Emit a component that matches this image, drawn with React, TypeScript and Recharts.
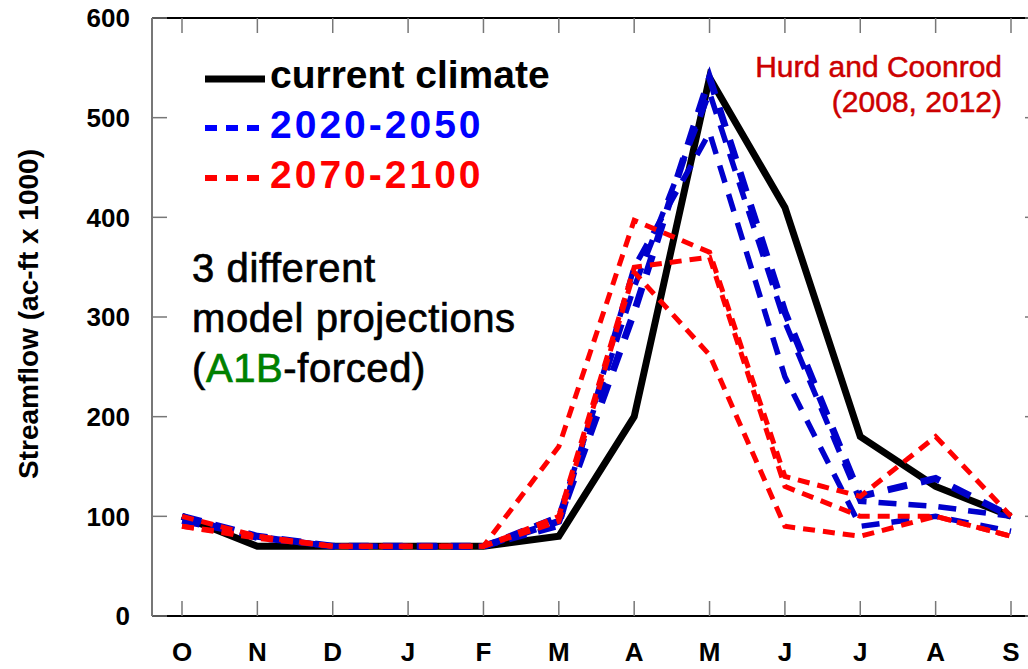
import React from 'react';
import { LineChart, Line, XAxis, YAxis, Customized } from 'recharts';

// months Oct..Sep (water year)
const months = ['Oct', 'Nov', 'Dec', 'Jan', 'Feb', 'Mar', 'Apr', 'May', 'Jun', 'Jul', 'Aug', 'Sep'];
const monthLabels = ['O', 'N', 'D', 'J', 'F', 'M', 'A', 'M', 'J', 'J', 'A', 'S'];
const yTicks = [0, 100, 200, 300, 400, 500, 600];

// streamflow, ac-ft x 1000
const current = [100, 70, 70, 70, 70, 80, 200, 540, 410, 180, 130, 100];
const mid1 = [100, 80, 70, 70, 70, 95, 305, 540, 305, 120, 138, 100];
const mid2 = [95, 80, 70, 70, 70, 90, 350, 485, 240, 90, 100, 85];
const mid3 = [100, 78, 70, 70, 70, 100, 330, 525, 295, 115, 110, 100];
const late1 = [100, 80, 70, 70, 70, 170, 397, 365, 140, 120, 180, 100];
const late2 = [90, 80, 70, 70, 70, 100, 350, 360, 130, 100, 100, 80];
const late3 = [90, 78, 70, 70, 70, 95, 345, 262, 90, 80, 100, 80];

const data = months.map((m, i) => ({
  month: m,
  current: current[i],
  mid1: mid1[i],
  mid2: mid2[i],
  mid3: mid3[i],
  late1: late1[i],
  late2: late2[i],
  late3: late3[i],
}));

const FONT = '"Liberation Sans", Arial, sans-serif';
const BLUE = '#0000CC';
const RED = '#FF0000';

const Notes = () => (
  <g fontFamily={FONT}>
    {/* legend */}
    <line x1={205} x2={265} y1={79} y2={79} stroke="#000" strokeWidth={7} />
    <line x1={205} x2={260} y1={128} y2={128} stroke="#0000FF" strokeWidth={6} strokeDasharray="12 9" />
    <line x1={205} x2={260} y1={178} y2={178} stroke={RED} strokeWidth={6} strokeDasharray="12 9" />
    <text x={270} y={88} fontSize={39} fontWeight="bold" fill="#000">current climate</text>
    <text x={270} y={138} fontSize={39} fontWeight="bold" fill="#0000FF" letterSpacing={3}>2020-2050</text>
    <text x={270} y={188} fontSize={39} fontWeight="bold" fill={RED} letterSpacing={3}>2070-2100</text>

    <text x={192} y={282} fontSize={40} fill="#000" stroke="#000" strokeWidth={0.7} letterSpacing={0.6}>3 different</text>
    <text x={192} y={332} fontSize={40} fill="#000" stroke="#000" strokeWidth={0.7} letterSpacing={0.6}>model projections</text>
    <text x={192} y={382} fontSize={40} fill="#000" stroke="#000" strokeWidth={0.7} letterSpacing={0.6}>
      (<tspan fill="#008000" stroke="#008000">A1B</tspan>-forced)
    </text>

    <text x={1002} y={77} fontSize={30} fill="#CC0000" stroke="#CC0000" strokeWidth={0.5} textAnchor="end">Hurd and Coonrod</text>
    <text x={1002} y={112} fontSize={30} fill="#CC0000" stroke="#CC0000" strokeWidth={0.5} textAnchor="end">(2008, 2012)</text>

    <text
      x={28}
      y={314}
      fontSize={28}
      fontWeight="bold"
      fill="#000"
      textAnchor="middle"
      dominantBaseline="central"
      transform="rotate(-90 28 314)"
    >
      Streamflow (ac-ft x 1000)
    </text>
  </g>
);

const tickFont = { fontFamily: FONT, fontWeight: 'bold', fontSize: 26, fill: '#000' };
const noLabel = () => <g />;
const innerTick = { stroke: '#777', strokeWidth: 1.5 };

export default function App() {
  return (
    <div style={{ position: 'absolute', left: 0, top: 0, background: '#fff' }}>
      <LineChart width={1028} height={669} data={data} margin={{ top: 18, right: -12, bottom: 0, left: 0 }}>
        <XAxis
          xAxisId="main"
          dataKey="month"
          orientation="bottom"
          height={53}
          padding={{ left: 30, right: 29 }}
          interval={0}
          axisLine={{ stroke: '#000', strokeWidth: 2 }}
          tickLine={false}
          tickSize={0}
          tickMargin={27}
          tick={tickFont}
          tickFormatter={(v: string, i: number) => monthLabels[i]}
        />
        <XAxis
          xAxisId="bottomIn"
          dataKey="month"
          orientation="bottom"
          mirror
          padding={{ left: 30, right: 29 }}
          interval={0}
          axisLine={false}
          tick={noLabel}
          tickSize={15}
          tickLine={innerTick}
        />
        <XAxis
          xAxisId="top"
          dataKey="month"
          orientation="top"
          mirror
          padding={{ left: 30, right: 29 }}
          interval={0}
          axisLine={{ stroke: '#000', strokeWidth: 2 }}
          tick={noLabel}
          tickSize={15}
          tickLine={innerTick}
        />
        <YAxis
          yAxisId="main"
          orientation="left"
          width={152}
          domain={[0, 600]}
          ticks={yTicks}
          axisLine={{ stroke: '#777', strokeWidth: 2 }}
          tickLine={false}
          tickSize={0}
          tickMargin={22}
          tick={tickFont}
        />
        <YAxis
          yAxisId="leftIn"
          orientation="left"
          mirror
          domain={[0, 600]}
          ticks={yTicks}
          axisLine={false}
          tick={noLabel}
          tickSize={15}
          tickLine={innerTick}
        />
        <YAxis
          yAxisId="rightIn"
          orientation="right"
          mirror
          domain={[0, 600]}
          ticks={yTicks}
          axisLine={false}
          tick={noLabel}
          tickSize={15}
          tickLine={innerTick}
        />

        {/* invisible series so the frame axes get a domain */}
        <Line xAxisId="bottomIn" yAxisId="leftIn" dataKey="current" stroke="none" dot={false} activeDot={false} legendType="none" isAnimationActive={false} />
        <Line xAxisId="top" yAxisId="rightIn" dataKey="current" stroke="none" dot={false} activeDot={false} legendType="none" isAnimationActive={false} />

        <Line xAxisId="main" yAxisId="main" type="linear" dataKey="current" stroke="#000" strokeWidth={7} dot={false} isAnimationActive={false} />

        <Line xAxisId="main" yAxisId="main" type="linear" dataKey="mid2" stroke={BLUE} strokeWidth={5.5} strokeDasharray="18 12" dot={false} isAnimationActive={false} />
        <Line xAxisId="main" yAxisId="main" type="linear" dataKey="mid3" stroke={BLUE} strokeWidth={5.5} strokeDasharray="18 12" dot={false} isAnimationActive={false} />
        <Line xAxisId="main" yAxisId="main" type="linear" dataKey="mid1" stroke={BLUE} strokeWidth={7} strokeDasharray="20 14" dot={false} isAnimationActive={false} />

        <Line xAxisId="main" yAxisId="main" type="linear" dataKey="late1" stroke={RED} strokeWidth={5} strokeDasharray="12 8" dot={false} isAnimationActive={false} />
        <Line xAxisId="main" yAxisId="main" type="linear" dataKey="late2" stroke={RED} strokeWidth={5} strokeDasharray="12 8" dot={false} isAnimationActive={false} />
        <Line xAxisId="main" yAxisId="main" type="linear" dataKey="late3" stroke={RED} strokeWidth={5} strokeDasharray="12 8" dot={false} isAnimationActive={false} />

        <Customized component={Notes} />
      </LineChart>
    </div>
  );
}
